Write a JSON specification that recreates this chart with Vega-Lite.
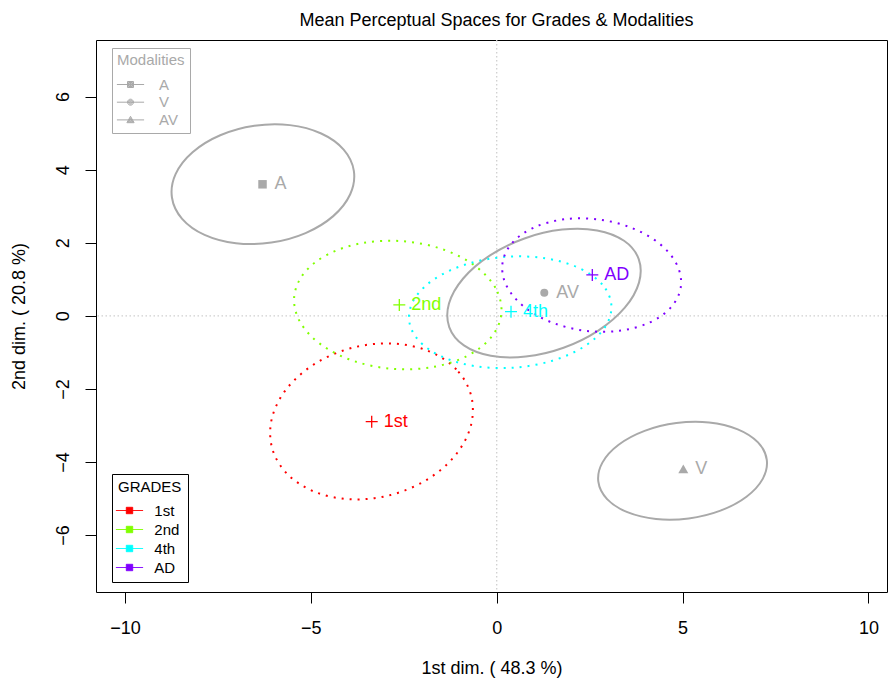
{
  "$schema": "https://vega.github.io/schema/vega-lite/v6.json",
  "width": 791,
  "height": 552,
  "autosize": "none",
  "padding": {"left": 96, "top": 40, "right": 1, "bottom": 89},
  "background": "white",
  "title": {
    "text": "Mean Perceptual Spaces for Grades & Modalities",
    "font": "Liberation Sans",
    "fontSize": 18,
    "fontWeight": "normal",
    "color": "black",
    "anchor": "middle",
    "frame": "group",
    "baseline": "alphabetic",
    "offset": 13.5,
    "dx": 5,
    "dy": 18.5
  },
  "config": {
    "view": {"stroke": "black", "strokeWidth": 1},
    "legend": {"labelFont": "Liberation Sans", "titleFont": "Liberation Sans"}
  },
  "datasets": {
    "modEllipses": [
      {"m": "A", "i": 0, "x": -3.843, "y": 3.967}, {"m": "A", "i": 1, "x": -4.117, "y": 4.551},
      {"m": "A", "i": 2, "x": -4.721, "y": 4.991}, {"m": "A", "i": 3, "x": -5.565, "y": 5.220},
      {"m": "A", "i": 4, "x": -6.519, "y": 5.202}, {"m": "A", "i": 5, "x": -7.438, "y": 4.942},
      {"m": "A", "i": 6, "x": -8.182, "y": 4.477}, {"m": "A", "i": 7, "x": -8.639, "y": 3.879},
      {"m": "A", "i": 8, "x": -8.737, "y": 3.239}, {"m": "A", "i": 9, "x": -8.463, "y": 2.655},
      {"m": "A", "i": 10, "x": -7.859, "y": 2.215}, {"m": "A", "i": 11, "x": -7.015, "y": 1.986},
      {"m": "A", "i": 12, "x": -6.061, "y": 2.004}, {"m": "A", "i": 13, "x": -5.142, "y": 2.264},
      {"m": "A", "i": 14, "x": -4.398, "y": 2.729}, {"m": "A", "i": 15, "x": -3.941, "y": 3.327},
      {"m": "V", "i": 0, "x": 7.266, "y": -3.941}, {"m": "V", "i": 1, "x": 7.030, "y": -3.465},
      {"m": "V", "i": 2, "x": 6.485, "y": -3.107}, {"m": "V", "i": 3, "x": 5.714, "y": -2.921},
      {"m": "V", "i": 4, "x": 4.834, "y": -2.937}, {"m": "V", "i": 5, "x": 3.979, "y": -3.151},
      {"m": "V", "i": 6, "x": 3.280, "y": -3.531}, {"m": "V", "i": 7, "x": 2.843, "y": -4.019},
      {"m": "V", "i": 8, "x": 2.734, "y": -4.541}, {"m": "V", "i": 9, "x": 2.970, "y": -5.017},
      {"m": "V", "i": 10, "x": 3.515, "y": -5.375}, {"m": "V", "i": 11, "x": 4.286, "y": -5.561},
      {"m": "V", "i": 12, "x": 5.166, "y": -5.545}, {"m": "V", "i": 13, "x": 6.021, "y": -5.331},
      {"m": "V", "i": 14, "x": 6.720, "y": -4.951}, {"m": "V", "i": 15, "x": 7.157, "y": -4.463},
      {"m": "AV", "i": 0, "x": 3.821, "y": 1.552}, {"m": "AV", "i": 1, "x": 3.426, "y": 2.054},
      {"m": "AV", "i": 2, "x": 2.703, "y": 2.338}, {"m": "AV", "i": 3, "x": 1.762, "y": 2.360},
      {"m": "AV", "i": 4, "x": 0.746, "y": 2.118}, {"m": "AV", "i": 5, "x": -0.189, "y": 1.648},
      {"m": "AV", "i": 6, "x": -0.902, "y": 1.022}, {"m": "AV", "i": 7, "x": -1.284, "y": 0.335},
      {"m": "AV", "i": 8, "x": -1.277, "y": -0.308}, {"m": "AV", "i": 9, "x": -0.882, "y": -0.810},
      {"m": "AV", "i": 10, "x": -0.159, "y": -1.094}, {"m": "AV", "i": 11, "x": 0.782, "y": -1.116},
      {"m": "AV", "i": 12, "x": 1.798, "y": -0.874}, {"m": "AV", "i": 13, "x": 2.733, "y": -0.404},
      {"m": "AV", "i": 14, "x": 3.446, "y": 0.222}, {"m": "AV", "i": 15, "x": 3.828, "y": 0.909}
    ],
    "gradeEllipses": [
      {"g": "1st", "i": 0, "x": -0.688, "y": -2.183}, {"g": "1st", "i": 1, "x": -1.087, "y": -1.466},
      {"g": "1st", "i": 2, "x": -1.834, "y": -0.965}, {"g": "1st", "i": 3, "x": -2.815, "y": -0.757},
      {"g": "1st", "i": 4, "x": -3.880, "y": -0.874}, {"g": "1st", "i": 5, "x": -4.866, "y": -1.298},
      {"g": "1st", "i": 6, "x": -5.625, "y": -1.964}, {"g": "1st", "i": 7, "x": -6.040, "y": -2.771},
      {"g": "1st", "i": 8, "x": -6.048, "y": -3.597}, {"g": "1st", "i": 9, "x": -5.649, "y": -4.314},
      {"g": "1st", "i": 10, "x": -4.902, "y": -4.815}, {"g": "1st", "i": 11, "x": -3.921, "y": -5.023},
      {"g": "1st", "i": 12, "x": -2.856, "y": -4.906}, {"g": "1st", "i": 13, "x": -1.870, "y": -4.482},
      {"g": "1st", "i": 14, "x": -1.111, "y": -3.816}, {"g": "1st", "i": 15, "x": -0.696, "y": -3.009},
      {"g": "2nd", "i": 0, "x": 0.127, "y": 0.082}, {"g": "2nd", "i": 1, "x": -0.036, "y": 0.768},
      {"g": "2nd", "i": 2, "x": -0.599, "y": 1.381}, {"g": "2nd", "i": 3, "x": -1.475, "y": 1.829},
      {"g": "2nd", "i": 4, "x": -2.532, "y": 2.044}, {"g": "2nd", "i": 5, "x": -3.609, "y": 1.993},
      {"g": "2nd", "i": 6, "x": -4.541, "y": 1.683}, {"g": "2nd", "i": 7, "x": -5.187, "y": 1.163},
      {"g": "2nd", "i": 8, "x": -5.449, "y": 0.510}, {"g": "2nd", "i": 9, "x": -5.286, "y": -0.176},
      {"g": "2nd", "i": 10, "x": -4.723, "y": -0.789}, {"g": "2nd", "i": 11, "x": -3.847, "y": -1.237},
      {"g": "2nd", "i": 12, "x": -2.790, "y": -1.452}, {"g": "2nd", "i": 13, "x": -1.713, "y": -1.401},
      {"g": "2nd", "i": 14, "x": -0.781, "y": -1.091}, {"g": "2nd", "i": 15, "x": -0.135, "y": -0.571},
      {"g": "4th", "i": 0, "x": 3.085, "y": 0.293}, {"g": "4th", "i": 1, "x": 2.838, "y": 0.859},
      {"g": "4th", "i": 2, "x": 2.214, "y": 1.309}, {"g": "4th", "i": 3, "x": 1.308, "y": 1.575},
      {"g": "4th", "i": 4, "x": 0.259, "y": 1.616}, {"g": "4th", "i": 5, "x": -0.775, "y": 1.426},
      {"g": "4th", "i": 6, "x": -1.635, "y": 1.034}, {"g": "4th", "i": 7, "x": -2.192, "y": 0.500},
      {"g": "4th", "i": 8, "x": -2.359, "y": -0.095}, {"g": "4th", "i": 9, "x": -2.112, "y": -0.661},
      {"g": "4th", "i": 10, "x": -1.488, "y": -1.111}, {"g": "4th", "i": 11, "x": -0.582, "y": -1.377},
      {"g": "4th", "i": 12, "x": 0.467, "y": -1.418}, {"g": "4th", "i": 13, "x": 1.501, "y": -1.228},
      {"g": "4th", "i": 14, "x": 2.361, "y": -0.836}, {"g": "4th", "i": 15, "x": 2.918, "y": -0.302},
      {"g": "AD", "i": 0, "x": 4.954, "y": 0.802}, {"g": "AD", "i": 1, "x": 4.844, "y": 1.408},
      {"g": "AD", "i": 2, "x": 4.386, "y": 1.970}, {"g": "AD", "i": 3, "x": 3.649, "y": 2.401},
      {"g": "AD", "i": 4, "x": 2.745, "y": 2.637}, {"g": "AD", "i": 5, "x": 1.813, "y": 2.641},
      {"g": "AD", "i": 6, "x": 0.992, "y": 2.413}, {"g": "AD", "i": 7, "x": 0.410, "y": 1.987},
      {"g": "AD", "i": 8, "x": 0.154, "y": 1.428}, {"g": "AD", "i": 9, "x": 0.264, "y": 0.822},
      {"g": "AD", "i": 10, "x": 0.722, "y": 0.260}, {"g": "AD", "i": 11, "x": 1.459, "y": -0.171},
      {"g": "AD", "i": 12, "x": 2.363, "y": -0.407}, {"g": "AD", "i": 13, "x": 3.295, "y": -0.411},
      {"g": "AD", "i": 14, "x": 4.116, "y": -0.183}, {"g": "AD", "i": 15, "x": 4.698, "y": 0.243}
    ],
    "modPoints": [
      {"m": "A", "x": -6.30, "y": 3.60},
      {"m": "V", "x": 5.02, "y": -4.19},
      {"m": "AV", "x": 1.28, "y": 0.634}
    ],
    "gradePoints": [
      {"g": "1st", "x": -3.363, "y": -2.898},
      {"g": "2nd", "x": -2.620, "y": 0.297},
      {"g": "4th", "x": 0.385, "y": 0.114},
      {"g": "AD", "x": 2.572, "y": 1.118}
    ],
    "origin": [{"v": 0}]
  },
  "encoding": {
    "x": {
      "field": "x", "type": "quantitative",
      "scale": {"domain": [-10.78, 10.5], "nice": false, "zero": false},
      "axis": {
        "values": [-10, -5, 0, 5, 10],
        "title": "1st dim. ( 48.3 %)",
        "grid": false, "domain": false,
        "tickColor": "black", "tickSize": 11, "tickWidth": 1,
        "labelFont": "Liberation Sans", "labelFontSize": 18, "labelColor": "black",
        "labelBaseline": "alphabetic", "labelPadding": 30.7, "labelFlush": false, "labelOverlap": false,
        "titleFont": "Liberation Sans", "titleFontSize": 18, "titleFontWeight": "normal", "titleColor": "black",
        "titleBaseline": "alphabetic", "titleY": 81.8
      }
    },
    "y": {
      "field": "y", "type": "quantitative",
      "scale": {"domain": [-7.56, 7.55], "nice": false, "zero": false},
      "axis": {
        "values": [-6, -4, -2, 0, 2, 4, 6],
        "title": "2nd dim. ( 20.8 %)",
        "grid": false, "domain": false,
        "tickColor": "black", "tickSize": 11, "tickWidth": 1,
        "labelFont": "Liberation Sans", "labelFontSize": 18, "labelColor": "black",
        "labelAngle": 270, "labelAlign": "center", "labelBaseline": "alphabetic",
        "labelPadding": 16.6, "labelFlush": false, "labelOverlap": false,
        "titleFont": "Liberation Sans", "titleFontSize": 18, "titleFontWeight": "normal", "titleColor": "black",
        "titleAngle": 270, "titleAlign": "center", "titleBaseline": "alphabetic",
        "titleX": -71.3, "titleY": 276
      }
    }
  },
  "layer": [
    {
      "data": {"name": "origin"},
      "mark": {"type": "rule", "color": "#cfcfcf", "strokeWidth": 1.3, "strokeDash": [1.5, 2.5]},
      "encoding": {"x": {"field": "v", "type": "quantitative"}, "y": null}
    },
    {
      "data": {"name": "origin"},
      "mark": {"type": "rule", "color": "#cfcfcf", "strokeWidth": 1.3, "strokeDash": [1.5, 2.5]},
      "encoding": {"y": {"field": "v", "type": "quantitative"}, "x": null}
    },
    {
      "data": {"name": "modEllipses"},
      "mark": {"type": "line", "interpolate": "cardinal-closed", "color": "#a9a9a9", "strokeWidth": 2},
      "encoding": {
        "detail": {"field": "m"},
        "order": {"field": "i", "type": "quantitative"}
      }
    },
    {
      "data": {"name": "gradeEllipses"},
      "mark": {"type": "line", "interpolate": "cardinal-closed", "strokeWidth": 2, "strokeDash": [2, 6], "strokeCap": "butt"},
      "encoding": {
        "order": {"field": "i", "type": "quantitative"},
        "color": {
          "field": "g", "type": "nominal",
          "scale": {"domain": ["1st", "2nd", "4th", "AD"], "range": ["#FF0000", "#80FF00", "#00FFFF", "#8000FF"]},
          "legend": {
            "title": "GRADES",
            "orient": "none", "legendX": 16, "legendY": 434,
            "direction": "vertical",
            "padding": 6, "strokeColor": "black", "fillColor": "white",
            "titleFontSize": 15, "titleFontWeight": "normal", "titleColor": "black", "titlePadding": 7,
            "labelFontSize": 15, "labelColor": "black", "labelOffset": 16.3,
            "symbolSize": 256, "symbolOffset": 3, "rowPadding": 2,
            "encode": {
              "symbols": {
                "update": {
                  "shape": {"value": "M-1.7,0H1.7M-0.4,-0.4H0.4V0.4H-0.4Z"},
                  "fill": {"scale": "color", "field": "value"},
                  "stroke": {"scale": "color", "field": "value"},
                  "strokeDash": {"value": [1, 0]},
                  "strokeWidth": {"value": 1},
                  "opacity": {"value": 1}
                }
              }
            }
          }
        }
      }
    },
    {
      "data": {"name": "modPoints"},
      "mark": {"type": "point", "filled": false, "color": "#a9a9a9", "opacity": 0, "size": 256, "strokeWidth": 1},
      "encoding": {
        "shape": {
          "field": "m", "type": "nominal",
          "scale": {
            "domain": ["A", "V", "AV"],
            "range": [
              "M-1.7,0H1.7M-0.375,-0.375H0.375V0.375H-0.375ZM-0.25,-0.25H0.25V0.25H-0.25ZM-0.125,-0.125H0.125V0.125H-0.125Z",
              "M-1.7,0H1.7M0.375,0A0.375,0.375,0,1,1,-0.375,0A0.375,0.375,0,1,1,0.375,0ZM0.25,0A0.25,0.25,0,1,1,-0.25,0A0.25,0.25,0,1,1,0.25,0ZM0.125,0A0.125,0.125,0,1,1,-0.125,0A0.125,0.125,0,1,1,0.125,0Z",
              "M-1.7,0H1.7M0,-0.45L0.45,0.35H-0.45ZM0,-0.272L0.3,0.261H-0.3ZM0,-0.095L0.15,0.172H-0.15Z"
            ]
          },
          "legend": {
            "title": "Modalities",
            "orient": "none", "legendX": 16, "legendY": 8,
            "direction": "vertical",
            "padding": 5, "strokeColor": "#a9a9a9", "fillColor": "white",
            "titleFontSize": 15, "titleFontWeight": "normal", "titleColor": "#a9a9a9", "titlePadding": 8,
            "labelFontSize": 15, "labelColor": "#a9a9a9", "labelOffset": 20,
            "symbolSize": 256, "symbolOffset": 5, "rowPadding": 0.7,
            "symbolStrokeColor": "#a9a9a9", "symbolStrokeWidth": 1, "symbolOpacity": 1,
            "encode": {
              "symbols": {
                "update": {
                  "stroke": {"value": "#a9a9a9"},
                  "strokeWidth": {"value": 1},
                  "opacity": {"value": 1}
                }
              }
            }
          }
        }
      }
    },
    {
      "data": {"name": "modPoints"},
      "transform": [{"filter": "datum.m === 'A'"}],
      "mark": {"type": "point", "shape": "square", "filled": true, "color": "#a9a9a9", "opacity": 1, "size": 72},
      "encoding": {}
    },
    {
      "data": {"name": "modPoints"},
      "transform": [{"filter": "datum.m === 'V'"}],
      "mark": {"type": "point", "shape": "triangle-up", "filled": true, "color": "#a9a9a9", "opacity": 1, "size": 100},
      "encoding": {}
    },
    {
      "data": {"name": "modPoints"},
      "transform": [{"filter": "datum.m === 'AV'"}],
      "mark": {"type": "point", "shape": "circle", "filled": true, "color": "#a9a9a9", "opacity": 1, "size": 64},
      "encoding": {}
    },
    {
      "data": {"name": "modPoints"},
      "mark": {"type": "text", "align": "left", "baseline": "middle", "dx": 12, "font": "Liberation Sans", "fontSize": 18, "color": "#a9a9a9"},
      "encoding": {"text": {"field": "m"}}
    },
    {
      "data": {"name": "gradePoints"},
      "mark": {"type": "point", "shape": "M-1,0H1M0,-1V1", "size": 144, "filled": false, "strokeWidth": 1.3, "opacity": 1},
      "encoding": {
        "color": {"field": "g", "type": "nominal", "legend": null}
      }
    },
    {
      "data": {"name": "gradePoints"},
      "mark": {"type": "text", "align": "left", "baseline": "middle", "dx": 12, "font": "Liberation Sans", "fontSize": 18},
      "encoding": {
        "text": {"field": "g"},
        "color": {"field": "g", "type": "nominal", "legend": null}
      }
    }
  ]
}
